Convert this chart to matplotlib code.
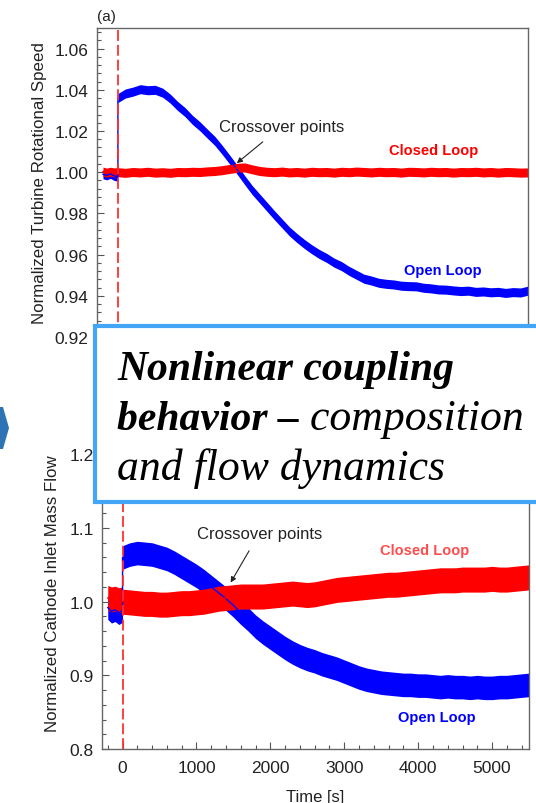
import matplotlib
matplotlib.use("Agg")
import matplotlib.pyplot as plt
from matplotlib.patches import Rectangle, Polygon

plt.rcParams['font.family'] = ['Liberation Sans', 'DejaVu Sans']

# sampling times [s]; the step change happens at t = 0
TIME_S = [-200, -150, -100, -50, 0] + list(range(0, 5501, 100))

# (a) normalized turbine rotational speed
SPEED_OPEN = [0.9990, 0.9985, 0.9992, 0.9982, 0.9978,
              1.0360, 1.0382, 1.0391, 1.0403, 1.0398, 1.0400, 1.0386, 1.0358,
              1.0322, 1.0292, 1.0254, 1.0223, 1.0187, 1.0152, 1.0108, 1.0061,
              1.0012, 0.9962, 0.9914, 0.9873, 0.9832, 0.9791, 0.9752, 0.9713,
              0.9681, 0.9652, 0.9626, 0.9603, 0.9584, 0.9561, 0.9544, 0.9521,
              0.9502, 0.9483, 0.9474, 0.9463, 0.9458, 0.9455, 0.9449, 0.9447,
              0.9446, 0.9439, 0.9436, 0.9431, 0.9430, 0.9426, 0.9423, 0.9425,
              0.9419, 0.9421, 0.9417, 0.9419, 0.9414, 0.9418, 0.9416, 0.9425]
SPEED_CLOSED = [1.0003, 0.9998, 1.0002, 0.9999, 1.0001,
                1.0000, 0.9997, 1.0001, 0.9999, 1.0002, 0.9998, 1.0000, 0.9997,
                1.0001, 1.0000, 1.0002, 1.0001, 1.0004, 1.0006, 1.0010, 1.0016,
                1.0021, 1.0023, 1.0014, 1.0006, 1.0002, 1.0000, 1.0003, 0.9999,
                1.0001, 0.9998, 1.0002, 1.0000, 1.0001, 0.9998, 1.0002, 1.0000,
                1.0003, 1.0001, 0.9999, 1.0002, 1.0000, 1.0001, 0.9998, 1.0002,
                1.0001, 0.9999, 1.0002, 1.0000, 1.0001, 0.9998, 1.0001, 1.0000,
                1.0002, 0.9999, 1.0001, 0.9998, 1.0001, 1.0000, 0.9998, 0.9999]
SPEED_NOISE = 0.0022

# (b) normalized cathode inlet mass flow
FLOW_OPEN = [0.992, 0.987, 0.989, 0.985, 0.988,
             1.060, 1.064, 1.066, 1.065, 1.064, 1.061, 1.058, 1.053,
             1.047, 1.041, 1.035, 1.028, 1.020, 1.012, 1.004, 0.995,
             0.985, 0.976, 0.966, 0.958, 0.951, 0.944, 0.937, 0.931,
             0.926, 0.922, 0.919, 0.915, 0.912, 0.909, 0.905, 0.901,
             0.897, 0.894, 0.892, 0.890, 0.889, 0.888, 0.887, 0.887,
             0.886, 0.886, 0.885, 0.884, 0.885, 0.884, 0.884, 0.883,
             0.884, 0.883, 0.883, 0.884, 0.884, 0.885, 0.886, 0.887]
FLOW_CLOSED = [1.005, 1.003, 1.004, 1.002, 1.003,
               1.000, 0.999, 0.998, 0.997, 0.997, 0.996, 0.996, 0.997,
               0.998, 0.998, 0.999, 1.000, 1.002, 1.004, 1.005, 1.006,
               1.007, 1.007, 1.007, 1.007, 1.008, 1.009, 1.010, 1.011,
               1.010, 1.009, 1.010, 1.012, 1.014, 1.016, 1.017, 1.018,
               1.019, 1.020, 1.021, 1.022, 1.023, 1.023, 1.024, 1.025,
               1.026, 1.027, 1.028, 1.029, 1.029, 1.029, 1.030, 1.030,
               1.030, 1.030, 1.031, 1.030, 1.030, 1.031, 1.032, 1.033]
FLOW_NOISE_OPEN = 0.016
FLOW_NOISE_CLOSED = 0.017

BLUE = '#0000ff'
RED = '#ff0000'
TXT = '#222222'

fig = plt.figure(figsize=(5.36, 8.04), dpi=100)


def style_axes(ax, major_y, minor_y, fmt):
    ax.set_xlim(-280, 5500)
    ax.xaxis.set_major_locator(plt.MultipleLocator(1000))
    ax.xaxis.set_minor_locator(plt.MultipleLocator(200))
    ax.yaxis.set_major_locator(plt.MultipleLocator(major_y))
    ax.yaxis.set_minor_locator(plt.MultipleLocator(minor_y))
    ax.yaxis.set_major_formatter(plt.FormatStrFormatter(fmt))
    ax.tick_params(which='both', direction='in', top=False, right=False,
                   colors='#555555', labelcolor=TXT, labelsize=12.5)
    ax.tick_params(which='major', length=5, width=0.8)
    ax.tick_params(which='minor', length=3, width=0.8)
    ax.tick_params(axis='y', pad=6)
    ax.tick_params(axis='x', pad=8)
    for s in ax.spines.values():
        s.set_color('#666666')
        s.set_linewidth(1.0)


def band(ax, t, y, hw, color):
    lo = [v - hw for v in y]
    hi = [v + hw for v in y]
    ax.fill_between(t, lo, hi, color=color, lw=0)
    ax.plot(t, y, color=color, lw=1.0)


# ---- (a) turbine speed ----
ax1 = fig.add_axes([0.181, 0.5796, 0.804, 0.3843])
style_axes(ax1, 0.02, 0.004, '%.2f')
ax1.tick_params(axis='x', labelbottom=False)
ax1.set_ylim(0.92, 1.07)
band(ax1, TIME_S, SPEED_OPEN, SPEED_NOISE, BLUE)
band(ax1, TIME_S, SPEED_CLOSED, SPEED_NOISE, RED)
ax1.axvline(0, color='#ff3030', lw=1.3, ls=(0, (6, 2.2)))
ax1.set_ylabel('Normalized Turbine Rotational Speed', fontsize=12.2, color=TXT)
ax1.yaxis.set_label_coords(-0.115, 0.5)
ax1.annotate('Crossover points', xy=(1595, 1.0044), xytext=(2198, 1.0223),
             ha='center', va='center', fontsize=12, color=TXT,
             arrowprops=dict(arrowstyle='-|>', color='#222222', lw=0.8,
                             mutation_scale=8, shrinkA=6, shrinkB=0))
ax1.text(4236, 1.0107, 'Closed Loop', color=RED, fontsize=10.5,
         fontweight='bold', ha='center', va='center')
ax1.text(4357, 0.9524, 'Open Loop', color=BLUE, fontsize=10.5,
         fontweight='bold', ha='center', va='center')
fig.text(97 / 536, 1 - 17 / 804, '(a)', fontsize=11, color=TXT,
         ha='left', va='center')

# ---- (b) cathode inlet mass flow ----
ax2 = fig.add_axes([0.190, 0.0672, 0.797, 0.3893])
style_axes(ax2, 0.1, 0.02, '%.1f')
ax2.set_ylim(0.8, 1.225)
band(ax2, TIME_S, FLOW_OPEN, FLOW_NOISE_OPEN, BLUE)
band(ax2, TIME_S, FLOW_CLOSED, FLOW_NOISE_CLOSED, RED)
ax2.axvline(0, color='#ff3030', lw=1.3, ls=(0, (6, 2.2)))
ax2.set_ylabel('Normalized Cathode Inlet Mass Flow', fontsize=12.2, color=TXT)
ax2.yaxis.set_label_coords(-0.098, 0.5)
ax2.set_xlabel('Time [s]', fontsize=12, color=TXT, labelpad=10)
ax2.annotate('Crossover points', xy=(1463, 1.026), xytext=(1850, 1.0928),
             ha='center', va='center', fontsize=12, color=TXT,
             arrowprops=dict(arrowstyle='-|>', color='#222222', lw=0.8,
                             mutation_scale=8, shrinkA=6, shrinkB=0))
ax2.text(4092, 1.0696, 'Closed Loop', color='#ff4d4d', fontsize=10.5,
         fontweight='bold', ha='center', va='center')
ax2.text(4255, 0.843, 'Open Loop', color=BLUE, fontsize=10.5,
         fontweight='bold', ha='center', va='center')

# ---- callout box over both panels ----
W, H = 536, 804
fig.add_artist(Rectangle((95 / W, 1 - 503 / H), 0.95, 176 / H,
                         transform=fig.transFigure, facecolor='white',
                         edgecolor='#42a5f5', lw=3.0, zorder=5))
fig.add_artist(Polygon([(0, 1 - 408 / H), (3 / W, 1 - 408 / H),
                        (9 / W, 1 - 429 / H), (3 / W, 1 - 450 / H),
                        (0, 1 - 450 / H)],
                       closed=True, transform=fig.transFigure,
                       facecolor='#2e74b5', edgecolor='none', zorder=5))
serif = ['Liberation Serif', 'DejaVu Serif']
fs_bold, fs_reg = 30, 31.5
fig.text(117 / W, 1 - 380 / H, 'Nonlinear coupling', family=serif,
         style='italic', weight='bold', fontsize=fs_bold, va='baseline',
         zorder=6)
t2 = fig.text(117 / W, 1 - 430 / H, 'behavior \u2013', family=serif,
              style='italic', weight='bold', fontsize=fs_bold, va='baseline',
              zorder=6)
fig.canvas.draw()
x_end = t2.get_window_extent().x1 / fig.bbox.width
fig.text(x_end, 1 - 430 / H, ' composition', family=serif, style='italic',
         fontsize=fs_reg, va='baseline', zorder=6)
fig.text(117 / W, 1 - 480 / H, 'and flow dynamics', family=serif,
         style='italic', fontsize=fs_reg, va='baseline', zorder=6)

fig.savefig('out.png', dpi=100)
